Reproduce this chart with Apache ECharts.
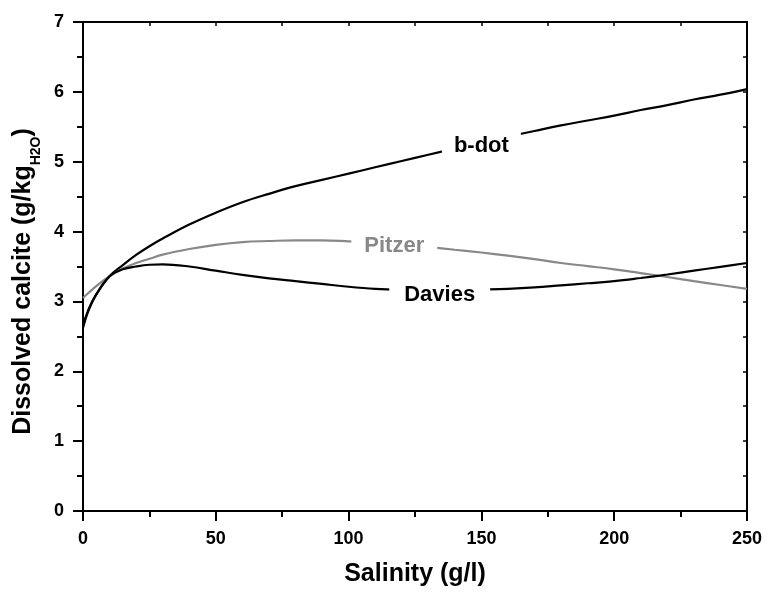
<!DOCTYPE html>
<html>
<head>
<meta charset="utf-8">
<style>
  html, body { margin: 0; padding: 0; background: #fff; }
  #chart { width: 768px; height: 594px; }
</style>
<script src="https://cdn.jsdelivr.net/npm/echarts@6/dist/echarts.min.js"></script>
</head>
<body>
<div id="chart"></div>
<script>
// Salinity (g/l)
const salinity = [0, 2, 5, 10, 15, 20, 25, 30, 40, 50, 60, 70, 80, 90, 100, 110, 120, 130, 140, 150, 160, 170, 180, 190, 200, 210, 220, 230, 240, 250];
// Dissolved calcite (g/kg H2O)
const bdot   = [2.65, 2.88, 3.10, 3.36, 3.52, 3.665, 3.79, 3.90, 4.10, 4.27, 4.42, 4.54, 4.65, 4.74, 4.83, 4.92, 5.01, 5.10, 5.19, 5.28, 5.36, 5.44, 5.52, 5.59, 5.66, 5.74, 5.81, 5.89, 5.96, 6.04];
const pitzer = [3.05, 3.12, 3.22, 3.36, 3.47, 3.55, 3.61, 3.67, 3.75, 3.81, 3.85, 3.865, 3.875, 3.875, 3.86, 3.84, 3.815, 3.78, 3.74, 3.70, 3.655, 3.605, 3.55, 3.505, 3.46, 3.405, 3.35, 3.29, 3.235, 3.18];
const davies = [2.62, 2.86, 3.10, 3.36, 3.46, 3.50, 3.525, 3.53, 3.50, 3.44, 3.38, 3.33, 3.29, 3.25, 3.21, 3.18, 3.165, 3.16, 3.162, 3.17, 3.18, 3.20, 3.23, 3.26, 3.29, 3.335, 3.385, 3.44, 3.495, 3.55];
const seriesNames = ['b-dot', 'Pitzer', 'Davies'];
// in-line label anchor points (data coordinates)
const labelAt = [[150, 5.22], [117.2, 3.79], [134.3, 3.10]];
const xTicks = [0, 50, 100, 150, 200, 250];
const yTicks = [0, 1, 2, 3, 4, 5, 6, 7];

const FONT = '"Liberation Sans", Arial, Helvetica, sans-serif';
const pair = arr => salinity.map((x, i) => [x, arr[i]]);

function lineSeries(name, data, color, anchor, padH) {
  return {
    name, type: 'line', data: pair(data), xAxisIndex: 0, yAxisIndex: 0,
    showSymbol: false, symbol: 'none', smooth: 0.4,
    lineStyle: { color, width: 2.2 }, z: 2,
    markPoint: {
      symbol: 'rect', symbolSize: 0, silent: true, animation: false,
      data: [{ coord: anchor, value: name }],
      label: {
        show: true, position: 'inside', formatter: name,
        color, fontSize: 22, fontWeight: 'bold', fontFamily: FONT,
        backgroundColor: '#fff', padding: [3, padH]
      }
    }
  };
}

const axisLine = { show: true, onZero: false, lineStyle: { color: '#000', width: 2 } };

const chart = echarts.init(document.getElementById('chart'), null, { renderer: 'canvas' });
chart.setOption({
  animation: false,
  backgroundColor: '#fff',
  grid: { left: 83, right: 21, top: 22, bottom: 83, containLabel: false },
  xAxis: [
    {
      type: 'value', position: 'bottom', min: xTicks[0], max: xTicks[xTicks.length - 1], interval: 50,
      axisLine,
      axisTick: { show: true, inside: false, length: 10, lineStyle: { color: '#000', width: 2 } },
      minorTick: { show: true, splitNumber: 2, length: 6, lineStyle: { color: '#000', width: 2 } },
      splitLine: { show: false },
      axisLabel: { color: '#000', fontSize: 18, fontWeight: 'bold', fontFamily: FONT, margin: 19 },
      name: 'Salinity (g/l)', nameLocation: 'middle', nameGap: 51,
      nameTextStyle: { color: '#000', fontSize: 25, fontWeight: 'bold', fontFamily: FONT }
    },
    {
      type: 'value', position: 'top', min: 0, max: 250, interval: 25,
      axisLine,
      axisTick: { show: true, inside: true, length: 4, lineStyle: { color: '#000', width: 1.5 } },
      axisLabel: { show: false }, splitLine: { show: false }
    }
  ],
  yAxis: [
    {
      type: 'value', position: 'left', min: yTicks[0], max: yTicks[yTicks.length - 1], interval: 1,
      axisLine,
      axisTick: { show: true, inside: false, length: 10, lineStyle: { color: '#000', width: 2 } },
      minorTick: { show: true, splitNumber: 2, length: 6, lineStyle: { color: '#000', width: 2 } },
      splitLine: { show: false },
      axisLabel: { color: '#000', fontSize: 18, fontWeight: 'bold', fontFamily: FONT, margin: 19 },
      name: '{m|Dissolved calcite (g/kg}{s|H2O}{m|)}', nameLocation: 'middle', nameGap: 39, nameRotate: 90,
      nameTextStyle: {
        color: '#000', fontWeight: 'bold', fontFamily: FONT, padding: [0, 30, 0, 0],
        rich: {
          m: { fontSize: 25, fontWeight: 'bold', fontFamily: FONT, color: '#000', lineHeight: 40 },
          s: { fontSize: 14, fontWeight: 'bold', fontFamily: FONT, color: '#000', lineHeight: 14, verticalAlign: 'bottom' }
        }
      }
    },
    {
      type: 'value', position: 'right', min: 0, max: 7, interval: 0.5,
      axisLine,
      axisTick: { show: true, inside: true, length: 4, lineStyle: { color: '#000', width: 1.5 } },
      axisLabel: { show: false }, splitLine: { show: false }
    }
  ],
  series: [
    lineSeries(seriesNames[0], bdot, '#000', labelAt[0], 12),
    lineSeries(seriesNames[1], pitzer, '#888', labelAt[1], 13),
    lineSeries(seriesNames[2], davies, '#000', labelAt[2], 15)
  ]
});
</script>
</body>
</html>
